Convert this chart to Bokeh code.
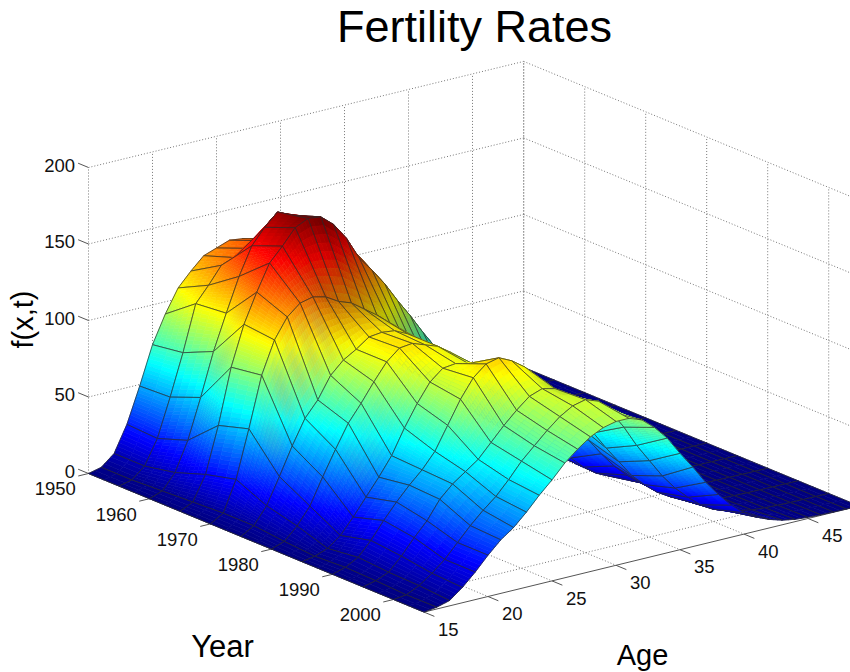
import numpy as np
from bokeh.plotting import figure
from bokeh.embed import file_html
from bokeh.resources import INLINE
from bokeh.models import ColumnDataSource
from bokeh.core.properties import value

years = [1950, 1955, 1960, 1965, 1970, 1975, 1980, 1985, 1990, 1995, 2000, 2005]
ages = list(range(15, 50))
year_ticks = [1950, 1960, 1970, 1980, 1990, 2000]
age_ticks = [15, 20, 25, 30, 35, 40, 45]
rate_ticks = [0, 50, 100, 150, 200]

f1950 = [0,2,9,26,49,74,92,107,116,124,127,130,129,127,120,112,105,97,88,78,68,55,44,34,25,16,10,6,3,1.5,.8,.4,.2,.1,0]
f1955 = [0,2,9,25,50,77,107,117,128,131,135,138,137,133,127,120,112,103,93,82,70,58,47,36,26,17,11,6,3,1.5,.8,.4,.2,.1,0]
f1960 = [0,3,13,32,58,86,109,131,149,159,167,163,160,156,150,140,128,115,103,90,78,65,53,41,31,21,13,8,4,2,1,.5,.2,.1,0]
f1965 = [0,4,20,50,86,112,131,148,157,167,171,170,163,152,137,127,116,103,91,78,66,56,46,36,27,18,12,7,4,2,1,.5,.2,.1,0]
f1970 = [0,5,25,56,89,110,123,130,132,130,125,122,116,110,103,92,80,68,56,45,36,28,21,15,10,7,4,2.5,1.5,.8,.4,.2,.1,.05,0]
f1975 = [0,5,16,33,51,67,77,91,99,104,110,111,110,106,100,91,80,68,56,45,34,25,18,12,8,5,3,1.8,1,.5,.3,.2,.1,.05,0]
f1980 = [0,3,11,22,39,55,70,81,93,104,111,112,109,106,100,92,82,70,57,46,35,26,18,12,8,5,3,1.8,1,.5,.3,.2,.1,.05,0]
f1985 = [0,1.5,4.6,11,21,32,43,55,71,85,97,104,105,103,98,90,80,68,56,45,34,25,17,11,7,4,2.5,1.5,.8,.4,.2,.1,.05,.02,0]
f1990 = [0,2.5,7,16,27,37,46,54,64,79,94,106,113,115,111,105,95,84,72,60,47,36,26,18,11,7,4,2,1,.5,.3,.2,.1,.05,0]
f1995 = [0,2,5.5,14,24,33,45,53,59,65,74,83,91,98,101,99,88,76,64,52,41,30,22,15,10,6,3.5,2,1,.5,.3,.2,.1,.05,0]
f2000 = [0,1,5,11,18,27,36,44,51,60,70,78,86,93,98,100,97,88,76,62,50,38,28,20,13,8,5,3,1.5,.8,.4,.2,.1,.05,0]
f2005 = [0,1.2,3.5,10,18,27,35,41,49,58,66,75,82,88,92,94,94,91,84,75,63,52,40,30,21,14,9,5.5,3,1.5,.8,.4,.2,.1,0]

Z = np.array([f1950,f1955,f1960,f1965,f1970,f1975,f1980,f1985,f1990,f1995,f2000,f2005], dtype=float)
Y0, Y1, A0, A1 = years[0], years[-1], ages[0], ages[-1]

# orthographic camera (screen px per data unit)
YX, AX, YS, AS, ZS, OX, OY = 6.1, 12.8, 2.52, -3.12, 1.53, 88.0, 473.0

def proj(y, a, z=0.0):
    return (OX + YX*(np.asarray(y, float)-Y0) + AX*(np.asarray(a, float)-A0),
            OY + YS*(np.asarray(y, float)-Y0) + AS*(np.asarray(a, float)-A0) - ZS*np.asarray(z, float))

ZMAX = Z.max()

def jet(t):
    t = np.clip(t, 0, 1)
    r = np.clip(1.5-np.abs(4*t-3), 0, 1)
    g = np.clip(1.5-np.abs(4*t-2), 0, 1)
    b = np.clip(1.5-np.abs(4*t-1), 0, 1)
    return r, g, b

# vertex lighting
dY = np.gradient(Z, 5.0, axis=0)
dA = np.gradient(Z, 1.0, axis=1)
nx = -dY*(Y1-Y0)/200.0
ny = -dA*(A1-A0)/200.0
nz = np.ones_like(Z)
nn = np.sqrt(nx**2+ny**2+nz**2)
nx, ny, nz = nx/nn, ny/nn, nz/nn
det = AX*(YS-ZS*dY) - YX*(AS-ZS*dA)
L = np.array([-0.3, -0.5, 0.8]); L = L/np.linalg.norm(L)
nl = nx*L[0]+ny*L[1]+nz*L[2]
SHADE = 0.75+0.55*np.clip(nl, 0, 1)
SHADE = np.where(det < 0, 1.0, np.minimum(SHADE, 1.0))

def hexc(r, g, b):
    return "#%02x%02x%02x" % (int(np.clip(r,0,1)*255+.5), int(np.clip(g,0,1)*255+.5), int(np.clip(b,0,1)*255+.5))

def bil(p00, p01, p10, p11, u, v):
    return (1-u)*(1-v)*p00+(1-u)*v*p01+u*(1-v)*p10+u*v*p11

xs, ys, fill, fa, line, lw = [], [], [], [], [], []
for i in range(len(years)-1):
    for j in range(len(ages)-2, -1, -1):
        z00, z01, z10, z11 = Z[i,j], Z[i,j+1], Z[i+1,j], Z[i+1,j+1]
        s00, s01, s10, s11 = SHADE[i,j], SHADE[i,j+1], SHADE[i+1,j], SHADE[i+1,j+1]
        slopeY = abs((z10+z11-z00-z01)/10.0)
        slopeA = (z01+z11-z00-z10)/2.0
        zmean = (z00+z01+z10+z11)/4.0
        glare = 0.28*float(np.clip((slopeY-4)/3, 0, 1)) if (slopeA > 2 and zmean < 115) else 0.0
        nu = min(10, 2+int(max(abs(z10-z00), abs(z11-z01))/3.5))
        nv = min(12, 2+int(max(abs(z01-z00), abs(z11-z10))/2.5))
        if glare > 0:
            nu, nv = max(nu, 8), max(nv, 8)
        for a in range(nu):
            u0, u1 = a/nu, (a+1)/nu
            for b in range(nv-1, -1, -1):
                v0, v1 = b/nv, (b+1)/nv
                cu, cv = (u0+u1)/2, (v0+v1)/2
                zc = bil(z00, z01, z10, z11, cu, cv)
                sc = bil(s00, s01, s10, s11, cu, cv)
                r, g, bl = jet(zc/ZMAX)
                r, g, bl = r*sc, g*sc, bl*sc
                w = glare*np.sin(np.pi*cu)*np.sin(np.pi*cv)
                r, g, bl = r*(1-w)+0.6*w, g*(1-w)+0.6*w, bl*(1-w)+0.5*w
                col = hexc(r, g, bl)
                px, py = [], []
                for u, v in ((u0,v0),(u1,v0),(u1,v1),(u0,v1)):
                    yy = years[i]+u*5
                    aa = ages[j]+v
                    sx, sy = proj(yy, aa, bil(z00, z01, z10, z11, u, v))
                    px.append(round(float(sx),2)); py.append(round(float(sy),2))
                xs.append(px); ys.append(py); fill.append(col); fa.append(1.0); line.append(col); lw.append(0.6)
        px, py = [], []
        for ii, jj in ((i,j),(i+1,j),(i+1,j+1),(i,j+1)):
            sx, sy = proj(years[ii], ages[jj], Z[ii,jj])
            px.append(float(sx)); py.append(float(sy))
        xs.append(px); ys.append(py); fill.append("#000000"); fa.append(0.0); line.append("#2a2a2a"); lw.append(0.7)

p = figure(width=850, height=672, x_range=(0, 850), y_range=(672, 0), toolbar_location=None,
           output_backend="svg", min_border=0, outline_line_color=None)
p.axis.visible = False
p.grid.visible = False

# dotted box grid
gx, gy = [], []
def seg(a, b):
    x0, y0 = proj(*a); x1, y1 = proj(*b)
    gx.append([float(x0), float(x1)]); gy.append([float(y0), float(y1)])
for z in rate_ticks[1:]:
    seg((Y0, A0, z), (Y0, A1, z)); seg((Y0, A1, z), (Y1, A1, z))
zt = rate_ticks[-1]
for a in age_ticks + [A1]:
    seg((Y0, a, 0), (Y0, a, zt))
    seg((Y0, a, 0), (Y1, a, 0))
for y in year_ticks:
    seg((y, A1, 0), (y, A1, zt))
    seg((y, A0, 0), (y, A1, 0))
p.multi_line(gx, gy, line_color="#777777", line_width=1, line_dash="1 2")

# axes and tick marks
ax, ay = [], []
def aseg(a, b):
    x0, y0 = proj(*a); x1, y1 = proj(*b)
    ax.append([float(x0), float(x1)]); ay.append([float(y0), float(y1)])
aseg((Y0, A0, 0), (Y1, A0, 0))
aseg((Y1, A0, 0), (Y1, A1, 0))
for y in year_ticks:
    aseg((y, A0, 0), (y, A0-0.8, 0))
for a in age_ticks:
    aseg((Y1, a, 0), (Y1+1.7, a, 0))
for z in rate_ticks:
    aseg((Y0, A0, z), (Y0-1.7, A0, z))
p.multi_line(ax, ay, line_color="#555555", line_width=1)

p.patches("xs", "ys", source=ColumnDataSource(dict(xs=xs, ys=ys, fill=fill, fa=fa, line=line, lw=lw)),
          fill_color="fill", fill_alpha="fa", line_color="line", line_width="lw")

FONT = value("Liberation Sans")
tx, ty = proj(year_ticks, A0-0.8)
p.text(tx, ty, text=[str(v) for v in year_ticks], text_font=FONT, text_font_size="18.5px", text_align="center",
       text_baseline="middle", x_offset=-23, y_offset=13, text_color="#111111")
tx, ty = proj(Y1+1.7, age_ticks)
p.text(tx, ty, text=[str(v) for v in age_ticks], text_font=FONT, text_font_size="18.5px", text_align="center",
       text_baseline="middle", x_offset=14, y_offset=13, text_color="#111111")
tx, ty = proj(Y0-1.7, A0, rate_ticks)
p.text(tx, ty, text=[str(v) for v in rate_ticks], text_font=FONT, text_font_size="18.5px", text_align="right",
       text_baseline="middle", x_offset=-3, y_offset=2, text_color="#111111")

p.text([474], [26], text=["Fertility Rates"], text_font=FONT, text_font_size="45px", text_align="center",
       text_baseline="middle", text_color="#000000")
p.text([22], [319], text=["f(x,t)"], text_font=FONT, text_font_size="29px", text_align="center",
       text_baseline="middle", angle=[np.pi/2], text_color="#000000")
p.text([222], [646], text=["Year"], text_font=FONT, text_font_size="31px", text_align="center",
       text_baseline="middle", text_color="#000000")
p.text([642], [654], text=["Age"], text_font=FONT, text_font_size="29px", text_align="center",
       text_baseline="middle", text_color="#000000")

open("out.html", "w").write(file_html(p, INLINE))
